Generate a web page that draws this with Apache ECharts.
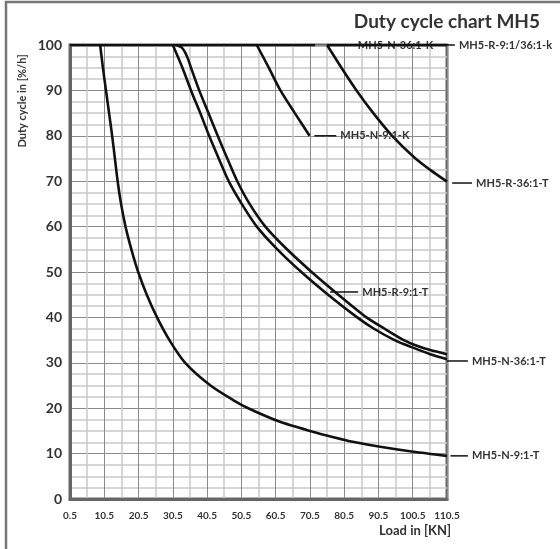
<!DOCTYPE html>
<html>
<head>
<meta charset="utf-8">
<script src="https://cdn.jsdelivr.net/npm/echarts@6/dist/echarts.min.js"></script>
<style>
  html, body { margin: 0; padding: 0; background: #fff; }
  #main { width: 560px; height: 549px; }
</style>
</head>
<body>
<div id="main"></div>
<script>
// load [KN] / duty cycle [%/h]
var n91T = [[9.3,100],[10.1,95],[11,90],[11.9,85],[12.8,80],[13.6,75],[14.4,70],[15.4,65],[16.7,60],[18.4,55],[20.4,50],[22.9,45],[25.9,40],[29.5,35],[34.1,30],[41.5,25],[48.1,21.8],[52.5,20],[61.8,17],[70.5,15],[78,13.5],[83,12.6],[91,11.5],[100.7,10.4],[110.5,9.5]];
var n361T = [[30.5,100],[33.3,95],[35.8,90],[38.5,85],[41.1,80],[43.9,75],[46.8,70],[50.6,65],[55,60],[61,55],[68,50],[75.8,45],[84.3,40],[89.2,37.5],[95.2,35],[100,33.5],[105.6,31.9],[110.5,30.8]];
var r91T = [[31.5,100],[33,99.5],[34,98.5],[34.9,97],[35.8,95],[38.2,90],[40.9,85],[43.6,80],[46.4,75],[49.3,70],[52.9,65],[57.5,60],[63.8,55],[71,50],[78.8,45],[87,40],[92.3,37.5],[97.9,35],[101.5,33.8],[105.6,32.8],[110.5,31.9]];
var n91K = [[55,100],[58.5,95],[61.9,90],[66.1,85],[70.4,80]];
var r361T = [[75.5,100],[79.7,95],[84.1,90],[89,85],[94.5,80],[101.3,75],[105.6,72.5],[110.5,69.9]];
var n361K = [[0.5,100],[72,100]];
var r91361k = [[75.5,100],[110.5,100]];

var xTicks = [0.5,10.5,20.5,30.5,40.5,50.5,60.5,70.5,80.5,90.5,100.5,110.5];
var yTicks = [0,10,20,30,40,50,60,70,80,90,100];

var FONT = 'Lato, "Open Sans", sans-serif';
var myChart = echarts.init(document.getElementById('main'));

function curve(name, data) {
    return {
        name: name,
        type: 'line',
        data: data,
        smooth: 0.25,
        showSymbol: false,
        symbol: 'none',
        lineStyle: { color: '#111', width: 2.6 },
        z: 3
    };
}

var option = {
    animation: false,
    grid: {
        left: 70, right: 113, top: 45, bottom: 50,
        show: true, borderColor: '#666', borderWidth: 3
    },
    xAxis: {
        type: 'value',
        min: xTicks[0], max: xTicks[xTicks.length - 1], interval: 10,
        axisLine: { show: true, lineStyle: { color: '#666', width: 3 } },
        axisTick: { show: false },
        axisLabel: { color: '#333', fontFamily: FONT, fontWeight: 'bold', fontSize: 10, margin: 12 },
        splitLine: { lineStyle: { color: '#8a8a8a', width: 1 } },
        minorTick: { show: false, splitNumber: 2 },
        minorSplitLine: { show: true, lineStyle: { color: '#c9c9c9', width: 1.5 } }
    },
    yAxis: {
        type: 'value',
        min: yTicks[0], max: yTicks[yTicks.length - 1], interval: 10,
        axisLine: { show: true, lineStyle: { color: '#666', width: 3 } },
        axisTick: { show: false },
        axisLabel: { color: '#333', fontFamily: FONT, fontWeight: 'bold', fontSize: 14, margin: 8 },
        splitLine: { lineStyle: { color: '#8a8a8a', width: 1 } },
        minorTick: { show: false, splitNumber: 4 },
        minorSplitLine: { show: true, lineStyle: { color: '#c9c9c9', width: 1.5 } }
    },
    series: [
        curve('MH5-N-9:1-T', n91T),
        curve('MH5-N-36:1-T', n361T),
        curve('MH5-R-9:1-T', r91T),
        curve('MH5-N-9:1-K', n91K),
        curve('MH5-R-36:1-T', r361T),
        curve('MH5-N-36:1-K', n361K),
        curve('MH5-R-9:1/36:1-k', r91361k)
    ]
};
myChart.setOption(option);

// leader lines + labels: [text, x from, x to, y]
var notes = [
    ['MH5-N-9:1-K', 71.8, 78.2, 80],
    ['MH5-R-36:1-T', 112, 117.8, 69.6],
    ['MH5-R-9:1-T', 76.4, 84.6, 45.6],
    ['MH5-N-36:1-T', 110.5, 116.6, 30.4],
    ['MH5-N-9:1-T', 111.5, 116.6, 9.5],
    ['MH5-R-9:1/36:1-k', 110.5, 112.8, 100]
];
var g = [];
notes.forEach(function (n) {
    var a = myChart.convertToPixel({ gridIndex: 0 }, [n[1], n[3]]);
    var b = myChart.convertToPixel({ gridIndex: 0 }, [n[2], n[3]]);
    g.push({ type: 'line', shape: { x1: a[0], y1: a[1], x2: b[0], y2: b[1] }, style: { stroke: '#111', lineWidth: 1.5 }, z: 10 });
    g.push({ type: 'text', x: b[0] + 4, y: b[1], z: 10,
        style: { text: n[0], fill: '#333', font: 'bold 11px ' + FONT, textAlign: 'left', textVerticalAlign: 'middle' } });
});
var kPos = myChart.convertToPixel({ gridIndex: 0 }, [95.5, 100]);
g.push({ type: 'text', x: kPos[0], y: kPos[1], z: 1,
    style: { text: 'MH5-N-36:1-K', fill: '#333', font: 'bold 11px ' + FONT, textAlign: 'center', textVerticalAlign: 'middle' } });

g.push({ type: 'rect', shape: { x: 6, y: 2, width: 600, height: 600 }, style: { fill: 'none', stroke: '#777', lineWidth: 2.5 }, z: 0 });
g.push({ type: 'text', x: 540, y: 22, style: { text: 'Duty cycle chart MH5', fill: '#333', font: 'bold 19px ' + FONT, textAlign: 'right', textVerticalAlign: 'middle' } });
g.push({ type: 'text', x: 22, y: 101, rotation: Math.PI / 2, style: { text: 'Duty cycle in [%/h]', fill: '#333', font: 'bold 11px ' + FONT, textAlign: 'center', textVerticalAlign: 'middle' } });
g.push({ type: 'text', x: 451, y: 531, style: { text: 'Load in [KN]', fill: '#333', font: 'bold 13px ' + FONT, textAlign: 'right', textVerticalAlign: 'middle' } });

myChart.setOption({ graphic: g });
</script>
</body>
</html>
